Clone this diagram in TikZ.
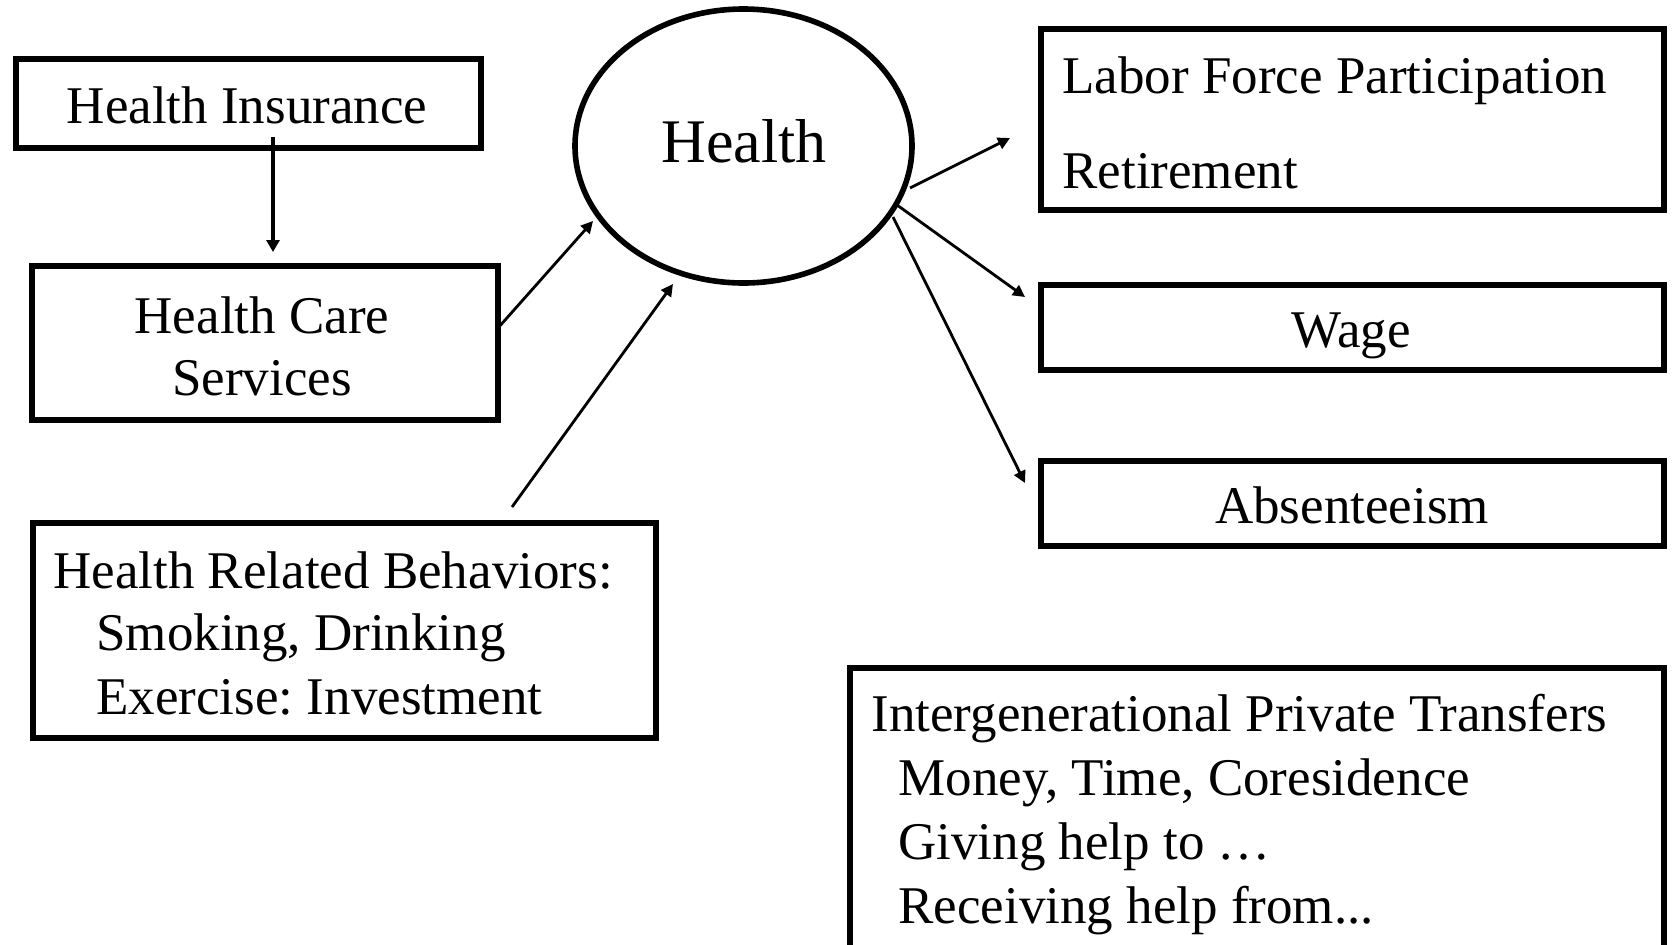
\documentclass[tikz,border=0pt]{standalone}
\usepackage{fontspec}
\setmainfont{Liberation Serif}
\usetikzlibrary{arrows.meta,shapes.geometric}
\frenchspacing
\begin{document}
\begin{tikzpicture}[x=0.5pt,y=-0.5pt,
  box/.style={draw,line width=2.6pt,rectangle,inner sep=0pt},
  txt/.style={inner sep=0pt,font=\fontsize{26.5}{31}\selectfont},
  arr/.style={line width=1.4pt,-{Triangle[length=6pt,width=6pt]}},
  thickarr/.style={line width=1.9pt,-{Triangle[length=6pt,width=6.5pt]}}]
\useasboundingbox (0,0) rectangle (1672,944);
% boxes
\node[box,minimum width=232.5pt,minimum height=44.5pt] (ins) at (248.5,103.5) {};
\node[box,minimum width=233pt,minimum height=77pt] (hcs) at (265,343) {};
\node[box,minimum width=311.5pt,minimum height=107.5pt] (hrb) at (344.5,630.5) {};
\node[draw,line width=2.8pt,ellipse,inner sep=0pt,minimum width=168.5pt,minimum height=137pt] (health) at (743.5,146) {};
\node[box,minimum width=311.5pt,minimum height=90.5pt] (lfp) at (1352.5,119.5) {};
\node[box,minimum width=311.5pt,minimum height=42.5pt] (wage) at (1352.5,327.5) {};
\node[box,minimum width=311.5pt,minimum height=42.5pt] (abs) at (1352.5,503.5) {};
\node[box,minimum width=407pt,minimum height=156pt] (itg) at (1257,824) {};
% texts
\node[txt,anchor=base] (tins) at (247,123) {Health Insurance};
\node[txt,anchor=base,font=\fontsize{31}{36}\selectfont] (thealth) at (744,162) {Health};
\node[txt,anchor=base] (thcs1) at (262,333) {Health Care};
\node[txt,anchor=base] (thcs2) at (262,395) {Services};
\node[txt,anchor=base west] (tlfp1) at (1062,93) {Labor Force Participation};
\node[txt,anchor=base west] (tlfp2) at (1062,188) {Retirement};
\node[txt,anchor=base] (twage) at (1351,347) {Wage};
\node[txt,anchor=base] (tabs) at (1352,523) {Absenteeism};
\node[txt,anchor=base west] (thrb1) at (53,588) {Health Related Behaviors:};
\node[txt,anchor=base west] (thrb2) at (96,650) {Smoking, Drinking};
\node[txt,anchor=base west] (thrb3) at (96,714) {Exercise: Investment};
\node[txt,anchor=base west] (titg1) at (871,731) {Intergenerational Private Transfers};
\node[txt,anchor=base west] (titg2) at (898,795) {Money, Time, Coresidence};
\node[txt,anchor=base west] (titg3) at (898,859) {Giving help to …};
\node[txt,anchor=base west] (titg4) at (898,923) {Receiving help from...};
% connector end points
\coordinate (s1) at (273,137);   \coordinate (e1) at (273,252);
\coordinate (s2) at (498,328);   \coordinate (e2) at (593,221);
\coordinate (s3) at (512,507);   \coordinate (e3) at (673,284);
\coordinate (s4) at (910,188);   \coordinate (e4) at (1010,138);
\coordinate (s5) at (897,205);   \coordinate (e5) at (1025,297);
\coordinate (s6) at (893,217);   \coordinate (e6) at (1025,483);
\draw[thickarr] (s1) -- (e1);
\draw[arr] (s2) -- (e2);
\draw[arr] (s3) -- (e3);
\draw[arr] (s4) -- (e4);
\draw[arr] (s5) -- (e5);
\draw[arr] (s6) -- (e6);
\end{tikzpicture}
\end{document}
